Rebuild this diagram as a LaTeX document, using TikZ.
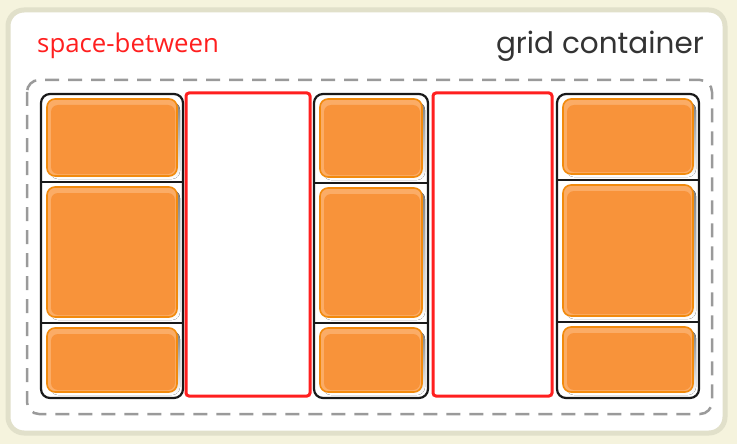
\documentclass[tikz,border=0pt]{standalone}
\usepackage{fontspec}
\setmainfont{Open Sans}
\newfontfamily\handfont{Poppins}
\usepackage{tikz}
\usepackage{xcolor}
\definecolor{cream}{HTML}{F5F3DD}
\definecolor{ring}{HTML}{E1E0CA}
\definecolor{dashgrey}{HTML}{9A9A9A}
\definecolor{gapred}{HTML}{FF1F1F}
\definecolor{itemfill}{HTML}{F8933A}
\definecolor{itemlight}{HTML}{FBAC66}
\definecolor{itemedge}{HTML}{F28A0C}
\definecolor{shade}{HTML}{D8D8D8}
\definecolor{ink}{HTML}{333333}

\begin{document}
\begin{tikzpicture}[x=1pt,y=-1pt]
\useasboundingbox (0,0) rectangle (737,444);
\fill[cream] (0,0) rectangle (737,444);
\draw[ring,line width=5pt,fill=white,rounded corners=16pt] (8,10) rectangle (725,433);
\node[anchor=base west,text=gapred,inner sep=0pt,font=\fontsize{25.8}{26}\selectfont] (gaplabel) at (37,53) {space-between};
\node[anchor=base east,text=ink,inner sep=0pt,font=\handfont\fontsize{29.5}{30}\selectfont] (gridlabel) at (704,54) {grid container};
\draw[dashgrey,line width=2.5pt,dash pattern=on 14pt off 9pt,rounded corners=12pt] (27,80) rectangle (712,414);
% gaps
\foreach \a/\b in {186/310,433/552} {\draw[gapred,line width=3pt,rounded corners=3pt] (\a,93) rectangle (\b,396);}
% columns: left/right/first divider/second divider
\foreach \l/\r/\p/\q in {41/183/182/323,314/428/183/323,557/699/180/322} {
  \foreach \t/\u in {94/\p,\p/\q,\q/398} {
    \fill[shade,rounded corners=8pt] (\l+9,\t+8) rectangle (\r-3,\u-3);
    \fill[itemlight,rounded corners=8pt] (\l+6,\t+5) rectangle (\r-6,\u-6);
    \fill[itemfill,rounded corners=7pt] (\l+10,\t+11) rectangle (\r-8,\u-8);
    \draw[itemedge,line width=1.6pt,rounded corners=8pt] (\l+6,\t+5) rectangle (\r-6,\u-6);
  }
  \draw[black!90,line width=2.2pt,rounded corners=9pt] (\l,94) rectangle (\r,398);
  \draw[black!90,line width=1.8pt] (\l,\p)--(\r,\p) (\l,\q)--(\r,\q);
}
\end{tikzpicture}
\end{document}
